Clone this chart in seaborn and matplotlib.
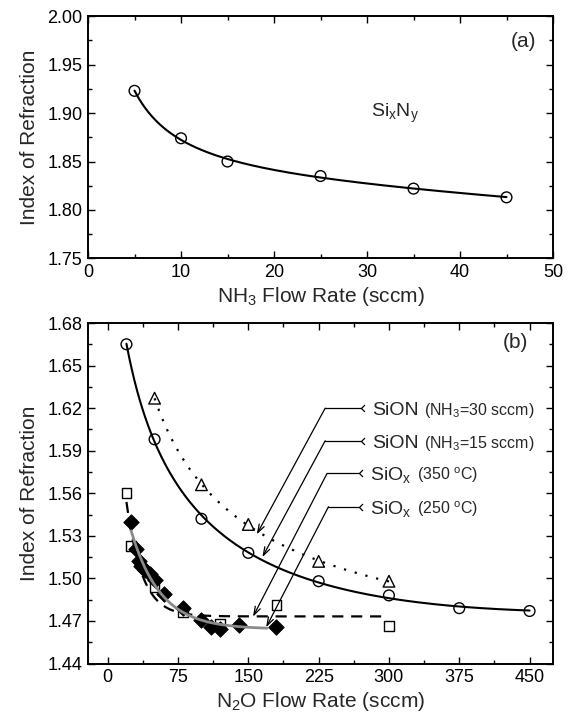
import numpy as np
import pandas as pd
import matplotlib
matplotlib.use("Agg")
import matplotlib.pyplot as plt
from matplotlib.path import Path
from matplotlib.ticker import MultipleLocator, FormatStrFormatter
import seaborn as sns

# ---------------- data ----------------
# panel (a): SixNy
nh3_flow = [5, 10, 15, 25, 35, 45]
n_sixny = [1.923, 1.874, 1.850, 1.835, 1.822, 1.813]

# panel (b)
sion15_x = [20, 50, 100, 150, 225, 300, 375, 450]
sion15_y = [1.665, 1.598, 1.542, 1.518, 1.498, 1.488, 1.479, 1.477]

sion30_x = [50, 100, 150, 225, 300]
sion30_y = [1.627, 1.566, 1.538, 1.512, 1.498]

siox350_x = [20, 25, 50, 80, 120, 180, 300]
siox350_y = [1.560, 1.523, 1.494, 1.476, 1.468, 1.481, 1.4665]

siox250_x = [25, 30, 33, 36, 40, 45, 50, 60, 80, 100, 110, 120, 140, 180]
siox250_y = [1.540, 1.521, 1.512, 1.509, 1.506, 1.503, 1.499, 1.489, 1.479,
             1.471, 1.466, 1.464, 1.467, 1.466]

xticks_a = [0, 10, 20, 30, 40, 50]
yticks_a = [1.75, 1.80, 1.85, 1.90, 1.95, 2.00]
xticks_b = [0, 75, 150, 225, 300, 375, 450]
yticks_b = [1.44, 1.47, 1.50, 1.53, 1.56, 1.59, 1.62, 1.65, 1.68]

labels_main = ["SiON", "SiON", "SiO$_{\\mathregular{x}}$", "SiO$_{\\mathregular{x}}$"]
labels_sub = ["(NH$_3$=30 sccm)", "(NH$_3$=15 sccm)",
              "(350 $^{\\mathregular{o}}$C)", "(250 $^{\\mathregular{o}}$C)"]


# ---------------- fitting helpers (curves computed from the data) ----------------
def logpoly_fit(x, y, deg, n=300):
    x = np.asarray(x, float); y = np.asarray(y, float)
    c = np.polyfit(np.log(x), y, deg)
    xs = np.linspace(x.min(), x.max(), n)
    return xs, np.polyval(c, np.log(xs))


def exp_fit(x, y, xmax=None, n=300):
    x = np.asarray(x, float); y = np.asarray(y, float)
    best = None
    for t in np.linspace(3, 150, 1500):
        A = np.column_stack([np.ones_like(x), np.exp(-x / t)])
        coef, *_ = np.linalg.lstsq(A, y, rcond=None)
        r = np.sum((A @ coef - y) ** 2)
        if best is None or r < best[0]:
            best = (r, t, coef)
    _, t, coef = best
    xs = np.linspace(x.min(), x.max() if xmax is None else xmax, n)
    return xs, coef[0] + coef[1] * np.exp(-xs / t)


# ---------------- style ----------------
sns.set_style("ticks")
plt.rcParams["font.family"] = ["Liberation Sans", "DejaVu Sans"]
plt.rcParams["mathtext.fontset"] = "custom"
plt.rcParams["mathtext.rm"] = "Liberation Sans"
plt.rcParams["mathtext.it"] = "Liberation Sans:italic"
plt.rcParams["mathtext.bf"] = "Liberation Sans:bold"

fig = plt.figure(figsize=(5.73, 7.17), dpi=100)
ax1 = fig.add_axes([0.1536, 0.6397, 0.8115, 0.3376])
ax2 = fig.add_axes([0.1536, 0.0746, 0.8115, 0.4749])


def style_axes(ax):
    for s in ax.spines.values():
        s.set_linewidth(1.4)
        s.set_color("black")
    ax.tick_params(which="both", direction="in", top=True, right=True,
                   width=1.0, colors="black", labelsize=13)
    ax.tick_params(which="major", length=5, pad=4)
    ax.tick_params(which="minor", length=3)


open_kw = dict(facecolor="none", edgecolor="black", linewidth=1.0)

# ---------------- panel (a) ----------------
xs, ys = logpoly_fit(nh3_flow, n_sixny, 3)
sns.lineplot(x=xs, y=ys, ax=ax1, color="black", linewidth=1.5, sort=False)
sns.scatterplot(x=nh3_flow, y=n_sixny, ax=ax1, marker="o", s=60, zorder=3, **open_kw)
ax1.set_xlim(0, 50)
ax1.set_ylim(1.75, 2.00)
ax1.set_xticks(xticks_a)
ax1.set_yticks(yticks_a)
ax1.xaxis.set_minor_locator(MultipleLocator(5))
ax1.yaxis.set_minor_locator(MultipleLocator(0.025))
ax1.yaxis.set_major_formatter(FormatStrFormatter("%.2f"))
ax1.set_xlabel("NH$_3$ Flow Rate (sccm)", fontsize=15, labelpad=3)
ax1.set_ylabel("Index of Refraction", fontsize=15, labelpad=6)
ax1.text(46.8, 1.9735, "(a)", fontsize=15, ha="center", va="center")
ax1.text(30.4, 1.900, "Si$_{\\mathregular{x}}$N$_{\\mathregular{y}}$", fontsize=14,
         ha="left", va="center")
style_axes(ax1)

# ---------------- panel (b) ----------------
# SiON NH3=15 (solid, circles)
xs, ys = logpoly_fit(sion15_x, sion15_y, 3)
sns.lineplot(x=xs, y=ys, ax=ax2, color="black", linewidth=1.5, sort=False)
sns.scatterplot(x=sion15_x, y=sion15_y, ax=ax2, marker="o", s=60, zorder=3, **open_kw)

# SiON NH3=30 (dotted, triangles)
xs, ys = logpoly_fit(sion30_x, sion30_y, 2)
sns.lineplot(x=xs, y=ys, ax=ax2, color="black", linewidth=1.6, linestyle=(0, (1, 4)),
             sort=False)
sns.scatterplot(x=sion30_x, y=sion30_y, ax=ax2, marker="^", s=70, zorder=3, **open_kw)

# SiOx 350 C (dashed, squares)
xs, ys = exp_fit(siox350_x, siox350_y)
sns.lineplot(x=xs, y=ys, ax=ax2, color="black", linewidth=1.6, linestyle=(0, (5, 3.5)),
             sort=False)
sns.scatterplot(x=siox350_x, y=siox350_y, ax=ax2, marker="s", s=50, zorder=3, **open_kw)

# SiOx 250 C (grey line, filled diamonds)
sns.scatterplot(x=siox250_x, y=siox250_y, ax=ax2, marker="D", s=62, color="black",
                edgecolor="black", zorder=3)
xs, ys = exp_fit(siox250_x, siox250_y, xmax=170)
sns.lineplot(x=xs, y=ys, ax=ax2, color="#8a8a8a", linewidth=2.0, sort=False, zorder=4)

ax2.set_xlim(-21, 475)
ax2.set_ylim(1.44, 1.68)
ax2.set_xticks(xticks_b)
ax2.set_yticks(yticks_b)
ax2.xaxis.set_minor_locator(MultipleLocator(37.5))
ax2.yaxis.set_minor_locator(MultipleLocator(0.015))
ax2.yaxis.set_major_formatter(FormatStrFormatter("%.2f"))
ax2.set_xlabel("N$_2$O Flow Rate (sccm)", fontsize=15, labelpad=3)
ax2.set_ylabel("Index of Refraction", fontsize=15, labelpad=6)
ax2.text(435, 1.666, "(b)", fontsize=15, ha="center", va="center")

# annotation layout: (label y, knee x, text x, arrow tip)
ann_layout = [
    (1.620, 232, 281.7, (159, 1.531)),
    (1.597, 232, 281.7, (165, 1.515)),
    (1.574, 234, 280.0, (155, 1.473)),
    (1.5505, 235.5, 280.0, (169, 1.4655)),
]
tail = Path([(1, 1), (0, 0), (1, -1)], [Path.MOVETO, Path.LINETO, Path.LINETO])
for (ly, kx, tx, tip), main, sub in zip(ann_layout, labels_main, labels_sub):
    end_x = tx - 12
    ax2.plot([kx, end_x], [ly, ly], color="black", lw=0.9)
    ax2.plot([end_x], [ly], marker=tail, ms=5, mfc="none", mec="black", mew=0.9,
             linestyle="none")
    ax2.annotate("", xy=tip, xytext=(kx, ly),
                 arrowprops=dict(arrowstyle="->,head_length=0.6,head_width=0.2",
                                 lw=0.9, color="black", shrinkA=0, shrinkB=0,
                                 mutation_scale=10))
    t1 = ax2.annotate(main, xy=(tx, ly), xytext=(0, -5), textcoords="offset points",
                      fontsize=14, ha="left", va="baseline")
    ax2.annotate(sub, xy=(1, ly), xycoords=(t1, "data"), xytext=(4, -5),
                 textcoords="offset points", fontsize=11.5, ha="left", va="baseline")

style_axes(ax2)

fig.savefig("out.png", dpi=100)
